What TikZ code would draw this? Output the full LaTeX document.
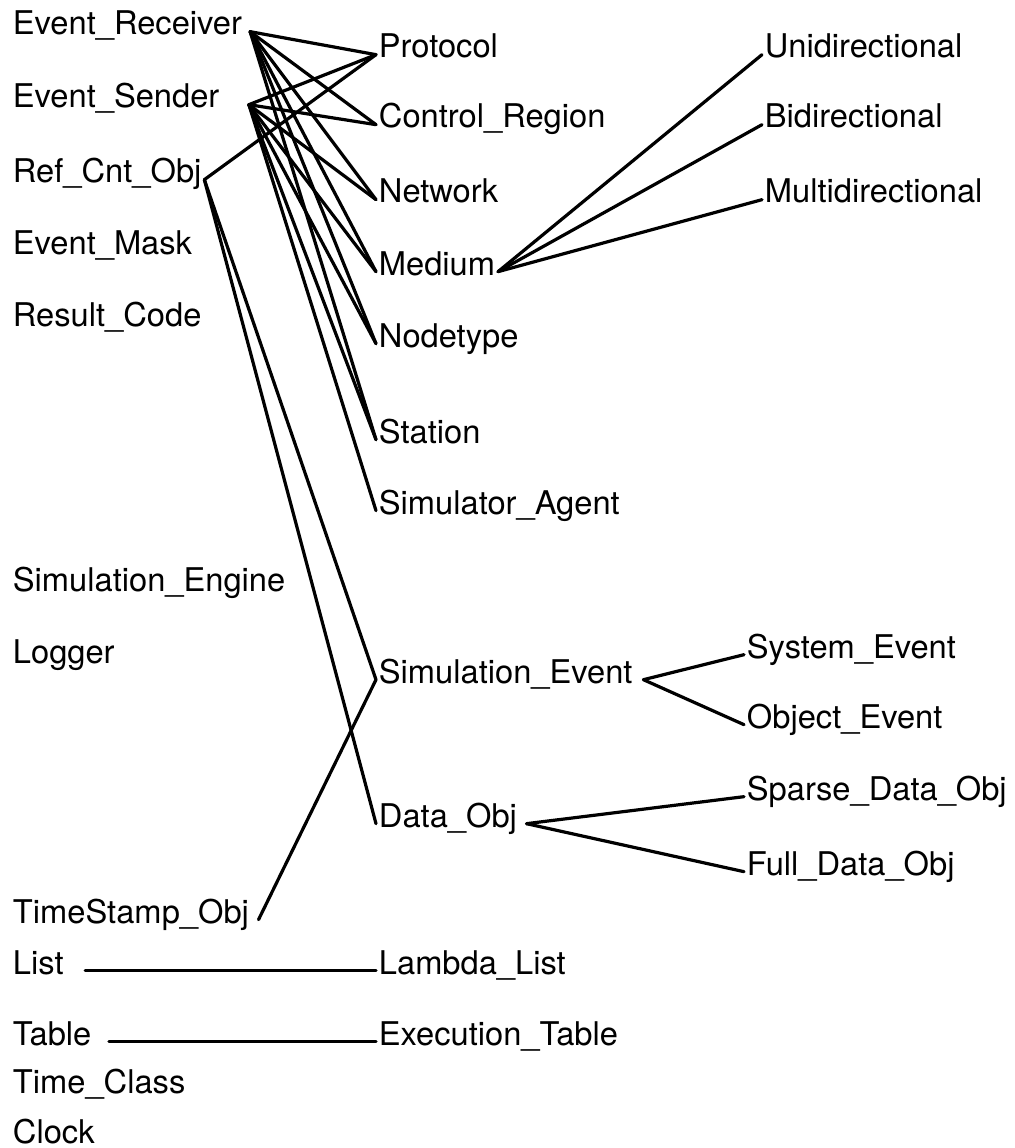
\documentclass[tikz,border=0pt]{standalone}
\usepackage{fontspec}
\setmainfont{TeX Gyre Heros}

\begin{document}
\begin{tikzpicture}[x=0.75pt, y=-0.75pt,
    cls/.style={anchor=base west, inner xsep=2pt, inner ysep=0pt,
      text height=5pt, text depth=0pt,
      font=\fontsize{24.5}{29}\selectfont},
    link/.style={line width=2.4pt, line cap=round, line join=round}]

    \useasboundingbox (0,0) rectangle (1014,1148);

    %% =========================================================
    %% LEFT COLUMN — text starts at x = 10, one class per row
    %% =========================================================
    \node[cls] (recv)   at (10,  35) {Event\_Receiver};
    \node[cls] (send)   at (10, 108) {Event\_Sender};
    \node[cls] (refc)   at (10, 183) {Ref\_Cnt\_Obj};
    \node[cls] (mask)   at (10, 254) {Event\_Mask};
    \node[cls] (result) at (10, 326) {Result\_Code};
    \node[cls] (engine) at (10, 591) {Simulation\_Engine};
    \node[cls] (logger) at (10, 663) {Logger};
    \node[cls] (tstamp) at (10, 923) {TimeStamp\_Obj};
    \node[cls] (list)   at (10, 974) {List};
    \node[cls] (table)  at (10,1045) {Table};
    \node[cls] (tclass) at (10,1093) {Time\_Class};
    \node[cls] (clock)  at (10,1143) {Clock};

    %% =========================================================
    %% MIDDLE COLUMN — text starts at x = 378
    %% =========================================================
    \node[cls] (proto)  at (376,  58) {Protocol};
    \node[cls] (ctrl)   at (376, 128) {Control\_Region};
    \node[cls] (net)    at (376, 203) {Network};
    \node[cls] (med)    at (376, 275) {Medium};
    \node[cls] (nodet)  at (376, 347) {Nodetype};
    \node[cls] (stat)   at (376, 443) {Station};
    \node[cls] (agent)  at (376, 514) {Simulator\_Agent};
    \node[cls] (simev)  at (376, 683) {Simulation\_Event};
    \node[cls] (dataobj) at (376, 827) {Data\_Obj};
    \node[cls] (lambda) at (376, 974) {Lambda\_List};
    \node[cls] (exec)   at (376,1045) {Execution\_Table};

    %% =========================================================
    %% RIGHT COLUMN — children of Medium, Simulation_Event, Data_Obj
    %% =========================================================
    \node[cls] (uni)    at (762,  58) {Unidirectional};
    \node[cls] (bi)     at (762, 128) {Bidirectional};
    \node[cls] (multi)  at (762, 203) {Multidirectional};
    \node[cls] (sysev)  at (744, 658) {System\_Event};
    \node[cls] (objev)  at (744, 728) {Object\_Event};
    \node[cls] (sparse) at (744, 800) {Sparse\_Data\_Obj};
    \node[cls] (full)   at (744, 875) {Full\_Data\_Obj};

    %% LINKS
    \foreach \c in {proto,ctrl,net,med,nodet,stat}
      \draw[link] ([xshift=4pt]recv.east) -- (\c.west);
    \foreach \c in {proto,ctrl,net,med,nodet,stat,agent}
      \draw[link] ([xshift=20pt]send.east) -- (\c.west);
    \foreach \c in {proto,simev,dataobj}
      \draw[link] (refc.east) -- (\c.west);

    \foreach \c in {uni,bi,multi}
      \draw[link] (med.east) -- (\c.west);
    \foreach \c in {sysev,objev}
      \draw[link] ([xshift=6pt]simev.east) -- (\c.west);
    \foreach \c in {sparse,full}
      \draw[link] ([xshift=5pt]dataobj.east) -- (\c.west);

    \draw[link] ([xshift=5pt]tstamp.east) -- (simev.west);
    \draw[link] ([xshift=14pt]list.east) -- (lambda.west);
    \draw[link] ([xshift=11pt]table.east) -- (exec.west);

\end{tikzpicture}
\end{document}
